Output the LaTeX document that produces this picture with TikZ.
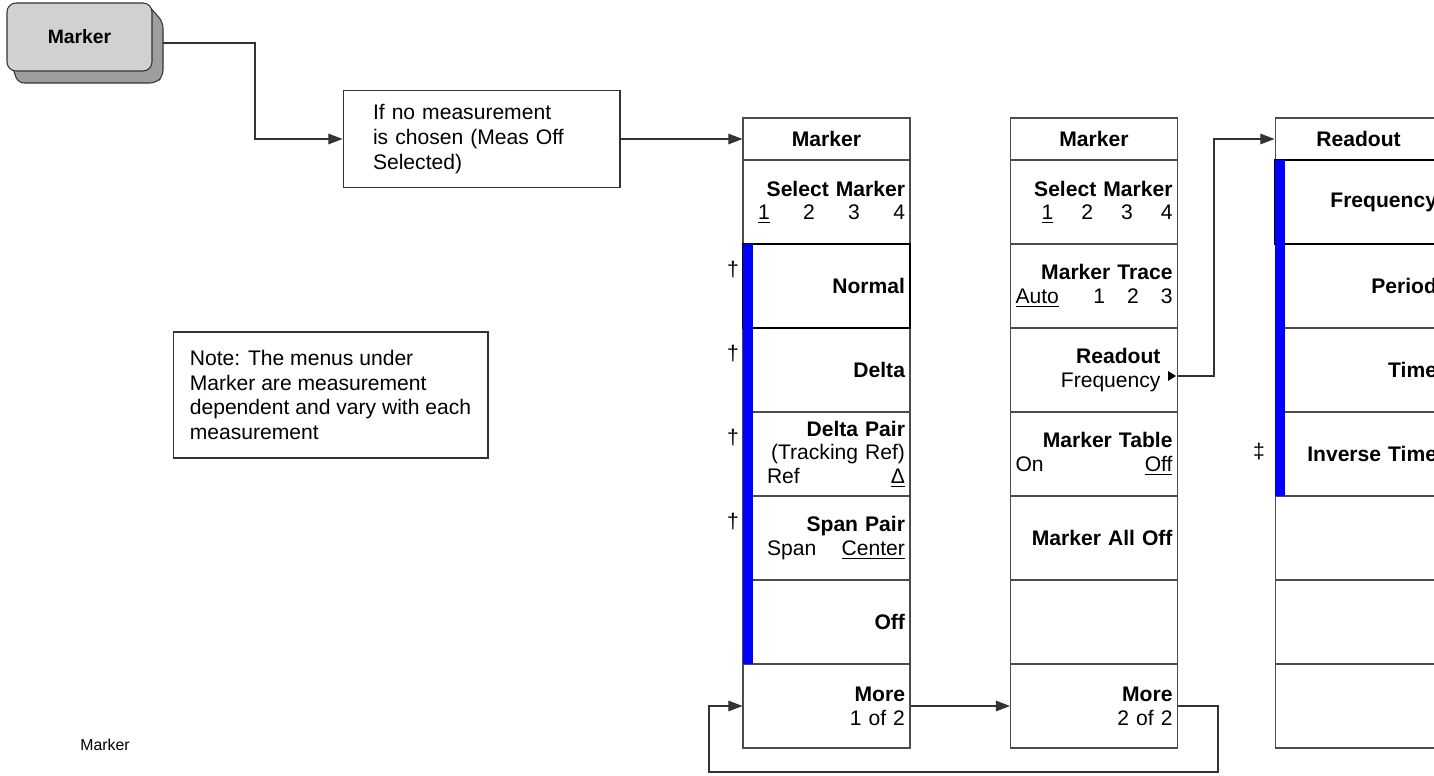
\documentclass[tikz,border=0pt]{standalone}
\usepackage{fontspec}
\setmainfont{Liberation Sans}
\usetikzlibrary{arrows.meta, positioning, calc}

\begin{document}
\begin{tikzpicture}[
    x=0.02cm,
    y=-0.02cm,
    every node/.style={font=\fontsize{12}{14}\selectfont},
    fio/.style={
        draw=black!80,
        line width=0.6pt
    },
    seta/.style={
        fio,
        -{Triangle[length=8pt, width=6pt]}
    },
    tecla/.style={
        draw=black!70,
        line width=0.6pt,
        fill=white,
        minimum height=1.68cm,
        text width=3.14cm,
        inner xsep=0.1cm,
        inner ysep=0pt,
        align=right,
        font=\fontsize{12}{13.5}\selectfont\bfseries
    },
    titulo/.style={
        tecla,
        minimum height=0.84cm,
        align=center
    },
    ativa/.style={
        draw=black,
        line width=1.6pt
    },
    marca/.style={
        inner sep=0pt,
        font=\fontsize{12}{14}\selectfont
    },
    caixa/.style={
        draw=black!80,
        line width=0.6pt,
        fill=white
    }
]

\useasboundingbox (0,0) rectangle (1434,775);
\clip (0,0) rectangle (1434,775);

% ============================================================
% TECLA
% ============================================================

% sombra da tecla
\fill[
    black!38,
    draw=black!80,
    line width=0.6pt,
    rounded corners=0.12cm
] (10,60) -- (18,83) -- (156,83) -- (163,76) -- (163,22) -- (148,5) -- cycle;

\node[
    draw=black!80,
    line width=0.6pt,
    fill=black!18,
    rounded corners=0.18cm,
    minimum width=2.9cm,
    minimum height=1.36cm,
    font=\fontsize{11}{13}\selectfont\bfseries
] (tecla) at (79.5,37)
{Marker};

\coordinate (teclasaida) at (163,43);

% ============================================================
% CAIXAS DE TEXTO
% ============================================================

\node[
    caixa,
    minimum width=5.54cm,
    minimum height=1.94cm,
    text width=4.34cm,
    inner xsep=0.6cm,
    align=left
] (caixa) at (481.5,139)
{If no measurement\\is chosen (Meas Off\\Selected)};

\node[
    caixa,
    minimum width=6.3cm,
    minimum height=2.52cm,
    align=left
] (nota) at (330.5,395)
{Note: The menus under\\Marker are measurement\\dependent and vary with each\\measurement};

\node[
    font=\fontsize{9}{11}\selectfont
] (rodape) at (105,745)
{Marker};

% ============================================================
% MENU MARKER 1 DE 2
% ============================================================

\node[titulo] (m1h) at (826.5,139) {Marker};
\node[tecla] (m1sel) at (826.5,202)
{Select Marker\\\mdseries\hspace*{0.2cm}\underline{1}\hfill 2\hfill 3\hfill 4};
\node[tecla] (m1delta) at (826.5,370) {Delta};
\node[tecla] (m1dpair) at (826.5,454)
{Delta Pair\\\mdseries(Tracking Ref)\\\hspace*{0.38cm}Ref\hfill\underline{Δ}};
\node[tecla] (m1span) at (826.5,538)
{Span Pair\\\mdseries\hspace*{0.38cm}Span\hfill\underline{Center}};
\node[tecla] (m1off) at (826.5,622) {Off};
\node[tecla] (m1more) at (826.5,706) {More\\\mdseries 1 of 2};
\node[tecla, ativa] (m1normal) at (826.5,286) {Normal};

% barra azul
\fill[blue] (743,244) rectangle (753,664);

\node[marca] (dag1) at (733,270) {†};
\node[marca] (dag2) at (733,354) {†};
\node[marca] (dag3) at (733,438) {†};
\node[marca] (dag4) at (733,522) {†};

% ============================================================
% MENU MARKER 2 DE 2
% ============================================================

\node[titulo] (m2h) at (1094,139) {Marker};
\node[tecla] (m2sel) at (1094,202)
{Select Marker\\\mdseries\hspace*{0.52cm}\underline{1}\hfill 2\hfill 3\hfill 4};
\node[tecla] (m2trace) at (1094,286)
{Marker Trace\\\mdseries\underline{Auto}\hfill 1\hspace{0.44cm}2\hspace{0.44cm}3};
\node[tecla] (m2ro) at (1094,370)
{Readout\kern0.24cm\\\mdseries Frequency\kern0.24cm};
\node[tecla] (m2table) at (1094,454)
{Marker Table\\\mdseries On\hfill\underline{Off}};
\node[tecla] (m2alloff) at (1094,538) {Marker All Off};
\node[tecla] (m2vazio) at (1094,622) {};
\node[tecla] (m2more) at (1094,706) {More\\\mdseries 2 of 2};

% seta pequena do Readout
\fill ($(m2ro.east)+(-2,6)$) -- ($(m2ro.east)+(-10,1)$) -- ($(m2ro.east)+(-10,11)$) -- cycle;
\coordinate (rosaida) at ($(m2ro.east)+(0,6)$);

% ============================================================
% MENU READOUT
% ============================================================

\node[titulo] (r3h) at (1358.5,139) {Readout};
\node[tecla] (r3period) at (1358.5,286) {Period};
\node[tecla] (r3time) at (1358.5,370) {Time};
\node[tecla] (r3inv) at (1358.5,454) {Inverse Time};
\node[tecla] (r3v1) at (1358.5,538) {};
\node[tecla] (r3v2) at (1358.5,622) {};
\node[tecla] (r3v3) at (1358.5,706) {};
\node[tecla, ativa] (r3freq) at (1358.5,202) {Frequency};

% barra azul
\fill[blue] (1275,160) rectangle (1285,496);

\node[marca] (ddag) at (1259,452) {‡};

% ============================================================
% LIGACOES
% ============================================================

\draw[seta] (teclasaida) -- ++(92,0) |- (caixa.west);
\draw[seta] (caixa.east) -- (m1h.west);
\draw[seta] (rosaida) -- ++(36,0) |- (r3h.west);
\draw[seta] (m1more.east) -- (m2more.west);
\draw[seta] (m2more.east) -- ++(40,0) -- ++(0,66) -- ++(-509,0) |- (m1more.west);

\end{tikzpicture}
\end{document}
